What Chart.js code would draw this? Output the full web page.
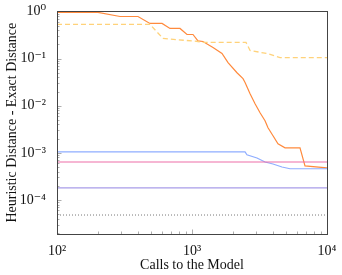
<!DOCTYPE html>
<html>
<head>
<meta charset="utf-8">
<script src="https://cdn.jsdelivr.net/npm/chart.js@4/dist/chart.umd.min.js"></script>
<style>
  html, body { margin: 0; padding: 0; background: #fff; }
  #wrap { width: 342px; height: 275px; }
</style>
</head>
<body>
<div id="wrap"><canvas id="chart-heuristic"></canvas></div>
<script>
// values (x = calls to the model, y = distance gap)
const orangeX = [100, 201, 293, 398, 488, 600, 687, 815, 918, 1017, 1107, 1205, 1431, 1668, 1849, 2154, 2387, 2472, 2692, 2931, 3192, 3475, 3656, 3981, 4335, 4887, 6310, 6871, 10000];
const orangeY = [0.95, 0.95, 0.78, 0.78, 0.556, 0.556, 0.435, 0.435, 0.324, 0.324, 0.236, 0.23, 0.171, 0.128, 0.082, 0.05, 0.0375, 0.031, 0.018, 0.011, 0.0071, 0.0048, 0.0034, 0.0023, 0.00155, 0.00128, 0.00128, 0.00053, 0.00048];

const dashedX = [100, 488, 610, 1107, 1200, 2512, 2692, 3597, 4487, 10000];
const dashedY = [0.53, 0.53, 0.267, 0.23, 0.22, 0.22, 0.148, 0.128, 0.105, 0.105];

const blueX = [100, 2472, 2552, 3029, 3475, 3981, 4642, 5320, 10000];
const blueY = [0.00105, 0.00105, 0.00091, 0.00078, 0.00064, 0.00058, 0.0005, 0.00046, 0.00046];

const pinkX = [100, 10000];
const pinkY = [0.00064, 0.00064];

const purpleX = [100, 10000];
const purpleY = [0.00018, 0.00018];

const dottedX = [100, 10000];
const dottedY = [0.000048, 0.000048];

const xTickLabels = ['10²', '10³', '10⁴'];
const yTickLabels = ['10⁻⁴', '10⁻³', '10⁻²', '10⁻¹', '10⁰'];

function pts(xs, ys) {
  return xs.map((x, i) => ({ x: x, y: ys[i] }));
}

function isDecade(v) {
  const l = Math.log10(v);
  return Math.abs(l - Math.round(l)) < 1e-9;
}

// box frame + inward ticks like pgfplots
const frameTicks = {
  id: 'frameTicks',
  afterDatasetsDraw(chart) {
    const { ctx, chartArea: a, scales } = chart;
    ctx.save();
    ctx.strokeStyle = '#999';
    ctx.lineWidth = 0.8;
    const ys = scales.y, xs = scales.x;
    for (let d = -5; d <= 0; d++) {
      for (let k = 1; k <= 9; k++) {
        const v = k * Math.pow(10, d);
        if (v < ys.min || v > ys.max) continue;
        const py = Math.round(ys.getPixelForValue(v)) + 0.5;
        const len = k === 1 ? 4.5 : 2.5;
        ctx.beginPath();
        ctx.moveTo(a.left, py);
        ctx.lineTo(a.left + len, py);
        ctx.stroke();
      }
    }
    for (let d = 2; d <= 4; d++) {
      for (let k = 1; k <= 9; k++) {
        const v = k * Math.pow(10, d);
        if (v < xs.min || v > xs.max) continue;
        const px = Math.round(xs.getPixelForValue(v)) + 0.5;
        const len = k === 1 ? 4.5 : 2.5;
        ctx.beginPath();
        ctx.moveTo(px, a.bottom);
        ctx.lineTo(px, a.bottom - len);
        ctx.stroke();
      }
    }
    ctx.strokeStyle = '#444';
    ctx.lineWidth = 1;
    ctx.strokeRect(Math.round(a.left) + 0.5, Math.round(a.top) + 0.5,
      Math.round(a.right - a.left), Math.round(a.bottom - a.top));
    ctx.restore();
  }
};

const serif = "'Liberation Serif', 'DejaVu Serif', serif";

new Chart(document.getElementById('chart-heuristic'), {
  type: 'line',
  data: {
    datasets: [
      {
        data: pts(dottedX, dottedY),
        borderColor: '#555',
        borderWidth: 0.8,
        borderDash: [1, 2],
      },
      {
        data: pts(purpleX, purpleY),
        borderColor: '#a89ce8',
        borderWidth: 1.2,
      },
      {
        data: pts(pinkX, pinkY),
        borderColor: '#ee6fa8',
        borderWidth: 1.2,
      },
      {
        data: pts(blueX, blueY),
        borderColor: '#8fadff',
        borderWidth: 1.2,
      },
      {
        data: pts(dashedX, dashedY),
        borderColor: '#ffd27a',
        borderWidth: 1.3,
        borderDash: [5, 3],
      },
      {
        data: pts(orangeX, orangeY),
        borderColor: '#ff8a3d',
        borderWidth: 1.2,
      },
    ],
  },
  options: {
    responsive: true,
    maintainAspectRatio: false,
    animation: false,
    parsing: false,
    elements: { point: { radius: 0 }, line: { tension: 0 } },
    layout: { padding: { left: 4, right: 15, top: 10, bottom: 0 } },
    plugins: {
      legend: { display: false },
      tooltip: { enabled: false },
    },
    scales: {
      x: {
        type: 'logarithmic',
        min: 100,
        max: 10000,
        grid: { display: false },
        border: { display: false },
        afterFit: (s) => { s.height = 41; },
        afterBuildTicks: (s) => {
          s.ticks = xTickLabels.map((t, i) => ({ value: Math.pow(10, i + 2) }));
        },
        ticks: {
          autoSkip: false,
          maxRotation: 0,
          padding: 1,
          color: '#111',
          font: { family: serif, size: 14 },
          callback: (v) => isDecade(v) ? xTickLabels[Math.round(Math.log10(v)) - 2] : '',
        },
        title: {
          display: true,
          text: 'Calls to the Model',
          color: '#111',
          padding: { top: 0, bottom: 1 },
          font: { family: serif, size: 14 },
        },
      },
      y: {
        type: 'logarithmic',
        min: 1.9e-5,
        max: 1,
        grid: { display: false },
        border: { display: false },
        afterFit: (s) => { s.width = 53; },
        afterBuildTicks: (s) => {
          s.ticks = yTickLabels.map((t, i) => ({ value: Math.pow(10, i - 4) }));
        },
        ticks: {
          autoSkip: false,
          padding: 3,
          color: '#111',
          font: { family: serif, size: 14 },
          callback: (v) => isDecade(v) ? yTickLabels[Math.round(Math.log10(v)) + 4] : '',
        },
        title: {
          display: true,
          text: 'Heuristic Distance - Exact Distance',
          color: '#111',
          padding: { top: 0, bottom: 1 },
          font: { family: serif, size: 14 },
        },
      },
    },
  },
  plugins: [frameTicks],
});
</script>
</body>
</html>
